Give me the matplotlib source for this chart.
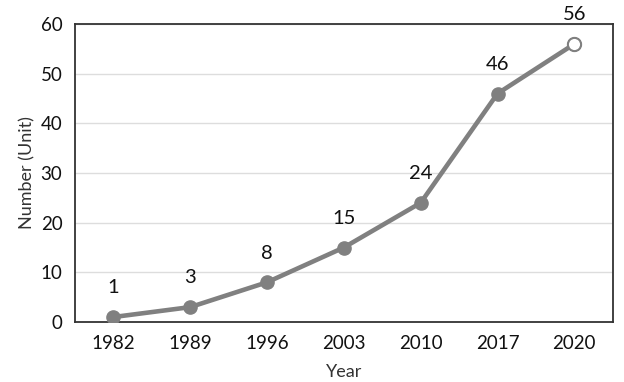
import matplotlib

matplotlib.use("Agg")
import matplotlib.pyplot as plt

years = ["1982", "1989", "1996", "2003", "2010", "2017", "2020"]
counts = [1, 3, 8, 15, 24, 46, 56]

plt.rcParams["font.family"] = ["Lato", "DejaVu Sans"]

fig = plt.figure(figsize=(6.24, 3.82), dpi=100)
ax = fig.add_axes([0.120, 0.157, 0.862, 0.780])

x = list(range(len(years)))
ax.plot(x, counts, color="#808080", lw=3.3, marker="o", ms=9.5,
        mfc="#808080", mec="#808080", zorder=3)
# last point is hollow
ax.plot(x[-1], counts[-1], marker="o", ms=9.5, mfc="white", mec="#808080",
        mew=1.5, zorder=4)

for xi, v in zip(x, counts):
    ax.annotate(str(v), (xi, v), xytext=(0, 21), textcoords="offset points",
                ha="center", va="center", fontsize=14.5, color="#111111")

ax.set_xlim(-0.5, len(years) - 0.5)
ax.set_ylim(0, 60)
ax.set_yticks(range(0, 61, 10))
ax.set_xticks(x)
ax.set_xticklabels(years)
ax.tick_params(length=0, labelsize=13.5, colors="#111111", pad=9)
ax.grid(axis="y", color="#dddddd", lw=1)
ax.set_axisbelow(True)
for s in ax.spines.values():
    s.set_color("#333333")
    s.set_linewidth(1.3)

ax.set_xlabel("Year", fontsize=13, color="#333333", labelpad=9)
ax.set_ylabel("Number (Unit)", fontsize=13, color="#333333", labelpad=4)

fig.savefig("out.png", dpi=100)
